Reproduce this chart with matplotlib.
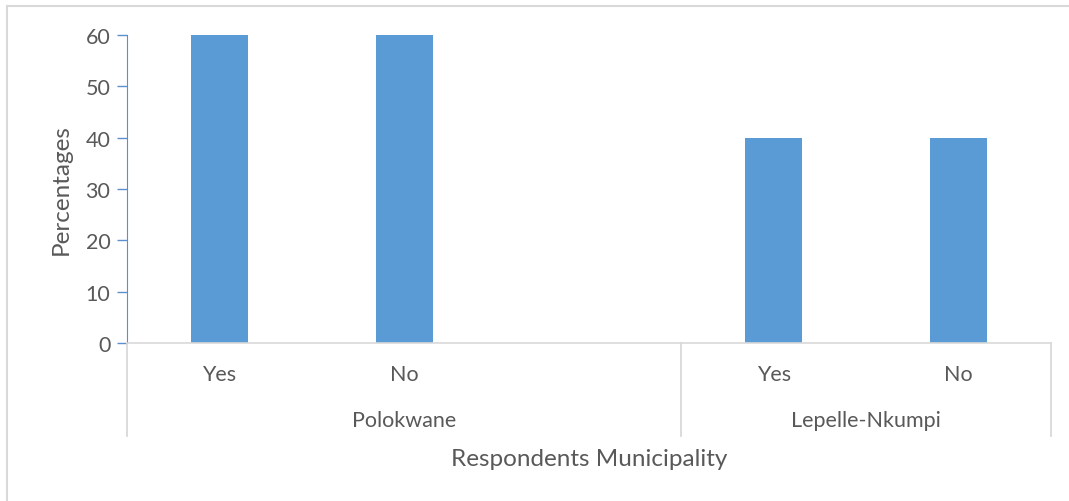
import matplotlib
matplotlib.use("Agg")
import matplotlib.pyplot as plt
from matplotlib.lines import Line2D
from matplotlib.transforms import blended_transform_factory

plt.rcParams['font.family'] = ['Lato', 'DejaVu Sans']

# Survey responses by municipality (percentages)
answers = ["Yes", "No", "", "Yes", "No"]
values = [60, 60, 0, 40, 40]
groups = ["Polokwane", "Lepelle-Nkumpi"]
group_spans = [(0, 2), (3, 4)]   # first and last slot index of each group
y_ticks = [0, 10, 20, 30, 40, 50, 60]

bar_color = "#5b9bd5"
text_color = "#595959"
grid_gray = "#d9d9d9"
axis_blue = "#5b8fd0"

W, H = 1069, 502
fig = plt.figure(figsize=(W / 100, H / 100), dpi=100)
ax = fig.add_axes([127 / W, (H - 344) / H, (1051 - 127) / W, (344 - 36) / H])

x = list(range(len(answers)))
drawn = [i for i, a in enumerate(answers) if a]
ax.bar([x[i] for i in drawn], [values[i] for i in drawn], width=0.31, color=bar_color, zorder=2)

ax.set_xlim(-0.5, len(answers) - 0.5)
ax.set_ylim(0, 60)
ax.set_yticks(y_ticks)
ax.tick_params(axis='y', direction='out', length=7, width=1, color=axis_blue,
               labelsize=15.5, labelcolor=text_color, pad=5)
ax.set_xticks([])

for side in ("top", "right"):
    ax.spines[side].set_visible(False)
ax.spines["left"].set_color(axis_blue)
ax.spines["bottom"].set_color(grid_gray)
ax.spines["bottom"].set_linewidth(1.2)

trans = blended_transform_factory(ax.transData, ax.transAxes)
px = 1 / 308  # one pixel in axes-height units

# Category labels
for i, a in enumerate(answers):
    if a:
        ax.text(x[i], -31 * px, a, transform=trans, ha='center', va='center',
                fontsize=15.5, color=text_color)

# Group labels and separators
for name, (a, b) in zip(groups, group_spans):
    ax.text((a + b) / 2, -77 * px, name, transform=trans, ha='center', va='center',
            fontsize=15.5, color=text_color)
bounds = [-0.5, 2.5, 4.5]
for bx in bounds:
    ax.add_line(Line2D([bx, bx], [0, -93 * px], transform=trans, color=grid_gray,
                       lw=1.3, clip_on=False))

ax.text(0.5, -116 * px, "Respondents Municipality", transform=ax.transAxes,
        ha='center', va='center', fontsize=17.5, color=text_color)
ax.set_ylabel("Percentages", fontsize=17.5, color=text_color, labelpad=10)

# Chart area border
fig.add_artist(Line2D([7 / W, 7 / W], [0, 1 - 7 / H], transform=fig.transFigure,
                      color=grid_gray, lw=1.5))
fig.add_artist(Line2D([7 / W, 1], [1 - 7 / H, 1 - 7 / H], transform=fig.transFigure,
                      color=grid_gray, lw=1.5))

fig.savefig("out.png", dpi=100, facecolor="white")
